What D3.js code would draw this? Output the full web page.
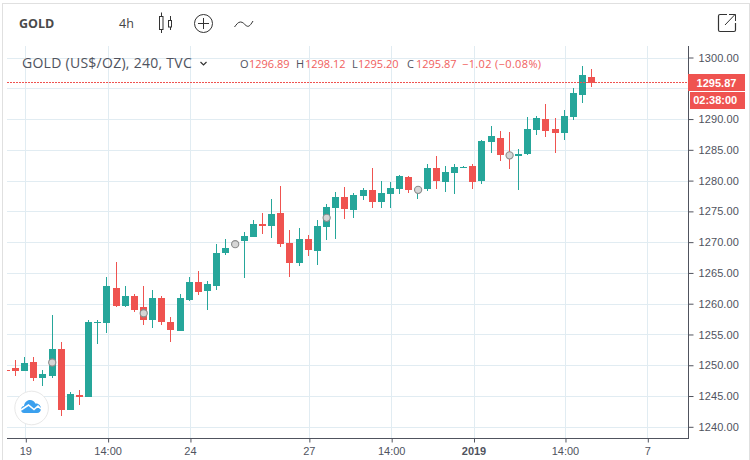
<!DOCTYPE html>
<html>
<head>
<meta charset="utf-8">
<script src="https://cdnjs.cloudflare.com/ajax/libs/d3/7.8.5/d3.min.js"></script>
<style>
html,body{margin:0;padding:0;background:#fff;}
svg{display:block;}
text{font-family:"Liberation Sans",Arial,sans-serif;}
</style>
</head>
<body>
<svg id="chart" width="750" height="460"></svg>
<script>
// Four-hour gold candles, oldest first
const opens = [1249.15,1249.5,1249.0,1250.45,1248.0,1248.2,1252.7,1242.65,1245.1,1244.9,1256.8,1256.8,1262.6,1259.7,1261.2,1259.4,1257.4,1260.85,1257.1,1255.5,1260.6,1263.5,1262.0,1262.85,1268.2,1269.6,1270.2,1270.8,1272.9,1272.6,1274.7,1269.85,1266.65,1270.5,1268.6,1272.5,1275.6,1277.35,1275.25,1277.5,1278.5,1276.55,1277.85,1278.65,1280.6,1278.4,1278.65,1282.05,1279.8,1281.25,1282.05,1282.3,1279.9,1286.2,1287.0,1284.3,1283.95,1284.3,1288.2,1290.0,1288.35,1287.7,1290.3,1293.85,1296.89];
const closes = [1249.0,1249.0,1250.3,1248.0,1248.5,1252.7,1242.65,1245.25,1244.9,1256.95,1256.95,1262.8,1259.55,1261.2,1259.05,1257.4,1260.85,1256.95,1255.65,1261.0,1263.5,1261.9,1263.2,1268.2,1269.0,1269.7,1271.0,1272.9,1272.6,1274.55,1269.67,1266.6,1270.5,1268.75,1272.65,1275.75,1277.35,1275.4,1277.7,1278.5,1276.55,1278.0,1278.8,1280.8,1278.5,1278.5,1282.05,1280.0,1281.4,1282.25,1282.2,1279.7,1286.4,1287.2,1284.1,1284.0,1284.3,1288.35,1290.1,1288.0,1287.7,1290.45,1294.2,1297.1,1295.87];
const highs = [1249.15,1250.9,1251.4,1251.4,1249.3,1258.2,1253.7,1245.6,1245.9,1257.3,1257.4,1264.4,1266.85,1262.8,1261.65,1262.8,1262.15,1261.3,1257.8,1261.65,1264.3,1265.3,1263.7,1269.7,1270.5,1269.9,1271.6,1273.6,1274.7,1277.0,1279.2,1271.95,1272.3,1271.2,1273.6,1276.2,1278.2,1279.0,1278.0,1278.8,1282.05,1280.0,1279.8,1280.95,1280.8,1278.8,1282.7,1284.0,1282.4,1282.7,1282.4,1282.65,1286.55,1288.85,1288.0,1287.85,1285.1,1290.3,1290.45,1292.4,1290.1,1291.4,1295.0,1298.6,1298.12];
const lows = [1249.0,1248.3,1249.0,1247.5,1246.7,1248.0,1241.7,1242.65,1243.6,1244.8,1253.5,1255.2,1259.4,1259.5,1258.6,1256.6,1256.0,1256.6,1253.7,1255.5,1260.4,1261.4,1258.95,1262.2,1267.9,1269.4,1264.15,1270.8,1271.3,1270.65,1269.2,1264.3,1266.15,1267.8,1266.3,1270.4,1270.5,1273.8,1273.95,1276.9,1275.6,1275.6,1275.6,1277.85,1278.0,1277.0,1278.35,1278.65,1278.2,1277.85,1282.05,1278.6,1279.4,1284.45,1283.15,1281.85,1278.4,1284.1,1287.35,1287.05,1284.45,1286.55,1289.8,1292.55,1295.2];

// Session markers: bar index and price
const markerBars = [5,15,25,35,45,55];
const markerPrices = [1250.45,1258.45,1269.67,1273.95,1278.5,1284.1];

const priceTicks = d3.range(1240,1301,5);
const coveredPriceTick = 1295; // sits under the last-price tag, so it carries no label
const timeTickBars = [2,11,20,33,42,51,61,70];
const timeTickLabels = ["19","14:00","24","27","14:00","2019","14:00","7"];

const lastPrice = 1295.87;
const countdown = "02:38:00";
const legendParts = [
  {t:"O",c:"ink",x:240},{t:"1296.89",c:"red",x:249},
  {t:"H",c:"ink",x:296},{t:"1298.12",c:"red",x:305},
  {t:"L",c:"ink",x:352},{t:"1295.20",c:"red",x:358},
  {t:"C",c:"ink",x:407},{t:"1295.87",c:"red",x:416},
  {t:"\u22121.02 (\u22120.08%)",c:"red",x:462,sp:0.35}
];

const UP="#26a69a", DOWN="#ef5350", GRID="#e1ecf2", AXIS="#50535e", INK="#50535e";

const svg=d3.select("#chart");
const pane={l:7,r:688,t:46,b:438};
const x=d3.scaleLinear().domain([2,70]).range([25.3,647.3]);
const y=d3.scaleLinear().domain([1240,1300]).range([426.8,57.5]);
const px=v=>Math.round(v)+0.5;

// Widget frame
svg.append("rect").attr("x",2.5).attr("y",3.5).attr("width",747).attr("height",470)
  .attr("fill","#fff").attr("stroke","#e0e0e0");

// Grid
const grid=svg.append("g").attr("stroke",GRID).attr("stroke-width",1);
grid.selectAll("line.h").data(priceTicks).join("line").attr("class","h")
  .attr("x1",pane.l).attr("x2",pane.r).attr("y1",d=>px(y(d))).attr("y2",d=>px(y(d)));
grid.selectAll("line.v").data(timeTickBars).join("line").attr("class","v")
  .attr("y1",pane.t).attr("y2",pane.b).attr("x1",d=>px(x(d))).attr("x2",d=>px(x(d)));

// Candles
svg.append("defs").append("clipPath").attr("id","pane").append("rect")
  .attr("x",pane.l).attr("y",pane.t).attr("width",pane.r-pane.l).attr("height",pane.b-pane.t);
const bars=svg.append("g").attr("clip-path","url(#pane)");
const cx=i=>Math.round(x(i)-1.2);
opens.forEach((o,i)=>{
  const c=closes[i], col=c>=o?UP:DOWN;
  bars.append("rect").attr("x",cx(i)).attr("width",1)
    .attr("y",Math.round(y(highs[i]))).attr("height",Math.max(1,Math.round(y(lows[i]))-Math.round(y(highs[i]))))
    .attr("fill",col);
  const top=Math.round(y(Math.max(o,c))), bot=Math.round(y(Math.min(o,c)));
  bars.append("rect").attr("x",cx(i)-3).attr("width",7)
    .attr("y",top).attr("height",Math.max(1,bot-top)).attr("fill",col);
});

// Last price line
svg.append("line").attr("x1",pane.l).attr("x2",pane.r)
  .attr("y1",82.5).attr("y2",82.5)
  .attr("stroke",DOWN).attr("stroke-dasharray","2 1");

// Session markers
svg.append("g").selectAll("circle").data(markerBars).join("circle")
  .attr("cx",d=>x(d)-0.5).attr("cy",(d,i)=>y(markerPrices[i])).attr("r",3.6)
  .attr("fill","#d6d6d6").attr("stroke","#8c8c8c").attr("stroke-width",1.1);

// Axes
const yAxis=d3.axisRight(y).tickValues(priceTicks).tickSize(5).tickPadding(5)
  .tickFormat(d=>d===coveredPriceTick?"":d3.format(".2f")(d));
const gy=svg.append("g").attr("transform",`translate(${pane.r+0.5},0)`).call(yAxis);
gy.select(".domain").remove();
gy.selectAll("line").attr("stroke",AXIS);
gy.selectAll("text").attr("fill",INK).attr("font-size",11).attr("letter-spacing",0.1)
  .style("font-family",'"Liberation Sans",Arial,sans-serif');

const xAxis=d3.axisBottom(x).tickValues(timeTickBars).tickSize(4).tickPadding(5)
  .tickFormat((d,i)=>timeTickLabels[i]);
const gx=svg.append("g").attr("transform",`translate(0,${pane.b+0.5})`).call(xAxis);
gx.select(".domain").remove();
gx.selectAll("line").attr("stroke",AXIS).attr("x1",0.5).attr("x2",0.5);
gx.selectAll("text").attr("fill",INK).attr("font-size",11)
  .attr("font-weight",(d,i)=>timeTickLabels[i]==="2019"?"bold":"normal")
  .style("font-family",'"Liberation Sans",Arial,sans-serif');

svg.append("line").attr("x1",pane.r+0.5).attr("x2",pane.r+0.5).attr("y1",pane.t).attr("y2",pane.b+1).attr("stroke",AXIS);
svg.append("line").attr("x1",pane.l).attr("x2",pane.r+1).attr("y1",pane.b+0.5).attr("y2",pane.b+0.5).attr("stroke",AXIS);

// Price and countdown tags
svg.append("rect").attr("x",688).attr("y",74).attr("width",57).attr("height",17).attr("fill",DOWN);
svg.append("text").attr("x",716.5).attr("y",86.5).attr("text-anchor","middle").attr("fill","#fff")
  .attr("font-size",11).attr("font-weight","bold").text(d3.format(".2f")(lastPrice));
svg.append("rect").attr("x",690).attr("y",92).attr("width",55).attr("height",17).attr("fill",DOWN);
svg.append("text").attr("x",715.2).attr("y",104).attr("text-anchor","middle").attr("fill","#fff")
  .attr("font-size",11).attr("font-weight","bold").text(countdown);

// Toolbar
svg.append("text").attr("x",19).attr("y",28).attr("font-size",12.5).attr("font-weight","bold")
  .attr("fill","#4a4a4a").style("font-family",'"Open Sans",sans-serif').text("GOLD");
svg.append("text").attr("x",119).attr("y",28).attr("font-size",12.5)
  .attr("fill","#444").style("font-family",'"Open Sans",sans-serif').text("4h");

const tool=svg.append("g").attr("fill","none").attr("stroke","#333").attr("stroke-width",1);
tool.append("rect").attr("x",159.5).attr("y",16.5).attr("width",3.5).attr("height",13);
tool.append("path").attr("d","M161.5 12.5v4M161.5 29.5v3.5");
tool.append("rect").attr("x",168.5).attr("y",20.5).attr("width",3).attr("height",6.5);
tool.append("path").attr("d","M170.5 16v4.500M170.5 27v3");
tool.append("circle").attr("cx",203.5).attr("cy",23.5).attr("r",9);
tool.append("path").attr("d","M198 23.5h11M203.5 18v11");
tool.append("path").attr("d","M234.500 27c2-2.500 3.500-5 6-5s3.500 2 5.500 3.500 3.500 1.500 7-4.500");
tool.append("path").attr("d","M727 14.500h-7a1.500 1.500 0 0 0-1.500 1.500v14a1.500 1.500 0 0 0 1.500 1.500h14a1.500 1.500 0 0 0 1.500-1.500v-7")
  .attr("stroke-width",1.2);
tool.append("path").attr("d","M725 25l10-10.500M729 14.500h6.500v6.500");

// Series legend
svg.append("text").attr("x",22).attr("y",68).attr("font-size",14).attr("fill",INK)
  .style("font-family",'"Open Sans",sans-serif').attr("letter-spacing",0.27).text("GOLD (US$/OZ), 240, TVC");
svg.append("path").attr("d","M200.500 62l3 3 3-3").attr("fill","none").attr("stroke","#333").attr("stroke-width",1.2);
svg.append("g").selectAll("text").data(legendParts).join("text")
  .attr("x",d=>d.x).attr("y",68).attr("font-size",11)
  .attr("letter-spacing",d=>d.sp||0)
  .attr("fill",d=>d.c==="red"?"#f0605d":INK)
  .style("font-family",'"Open Sans",sans-serif').text(d=>d.t);

// Brand badge
svg.append("circle").attr("cx",31.600).attr("cy",408).attr("r",16.800).attr("fill","#fff").attr("stroke","#e8e8e8").attr("stroke-width",1);
svg.append("path").attr("fill","#3ba0ee")
  .attr("d","M24 413c-2 0-3-1.500-3-3.500s1.300-3.300 3-3.500c.5-3.500 3-6 6-6 2.500 0 4.500 1.500 5.300 3.500 3.700-.3 5.700 2.500 5.700 5 0 2.700-1.500 4.500-4 4.500z");
svg.append("path").attr("fill","none").attr("stroke","#fff").attr("stroke-width",1.6)
  .attr("d","M21 410l7.500-5 5.500 4.500 4-3.500 3 3");
</script>
</body>
</html>
